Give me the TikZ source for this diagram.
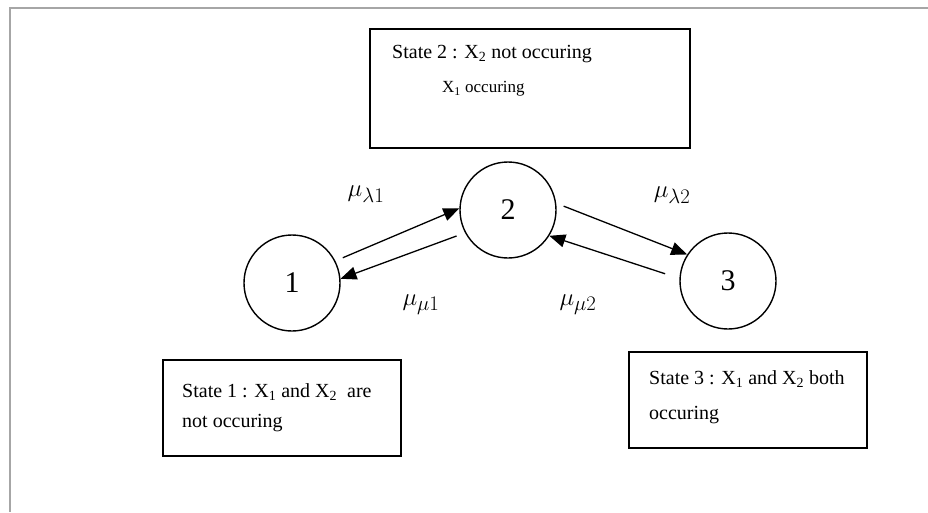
\documentclass[tikz,border=0pt]{standalone}
\usepackage{fontspec}
\setmainfont{Liberation Serif}
\usetikzlibrary{arrows.meta}
\begin{document}
\begin{tikzpicture}[x=1pt,y=-1pt,
  statecirc/.style={circle,draw,line width=1.4pt,minimum size=96pt,inner sep=0pt,font=\fontsize{30}{34}\selectfont},
  infobox/.style={draw,line width=1.7pt},
  boxtext/.style={anchor=west,inner sep=0pt,font=\fontsize{20}{24}\selectfont},
  smalltext/.style={anchor=west,inner sep=0pt,font=\fontsize{17}{20}\selectfont},
  rate/.style={inner sep=0pt,font=\fontsize{28}{32}\selectfont},
  trans/.style={line width=1.3pt,-{Triangle[length=16pt,width=13pt]}},
  frameline/.style={draw=black!35,line width=1.5pt}]
\useasboundingbox (0,0) rectangle (928,512);
\fill[white] (0,0) rectangle (928,512);
% outer frame
\coordinate (ftr) at (928,8);
\coordinate (ftl) at (10,8);
\coordinate (fbl) at (10,512);
\draw[frameline] (ftr) -- (ftl) -- (fbl);
% boxes
\node[infobox,minimum width=320pt,minimum height=119pt,inner sep=0pt] (box2) at (530,88.5) {};
\node[infobox,minimum width=238pt,minimum height=96pt,inner sep=0pt] (box1) at (282,408) {};
\node[infobox,minimum width=238pt,minimum height=96pt,inner sep=0pt] (box3) at (748,400) {};
\node[boxtext] (t2a) at (392,54) {State 2 : X\textsubscript{2} not occuring};
\node[smalltext] (t2b) at (442,89) {X\textsubscript{1} occuring};
\node[boxtext] (t1a) at (182,392) {State 1 : X\textsubscript{1} and X\textsubscript{2}\ \ are};
\node[boxtext] (t1b) at (182,423) {not occuring};
\node[boxtext] (t3a) at (649,379) {State 3 : X\textsubscript{1} and X\textsubscript{2} both};
\node[boxtext] (t3b) at (649,415) {occuring};
% states
\node[statecirc] (c1) at (292,283) {1};
\node[statecirc] (c2) at (508,210) {2};
\node[statecirc] (c3) at (728,281) {3};
% transitions
\draw[trans,shorten <=8pt] (c1.27) -- (c2.178);
\draw[trans,shorten <=9pt] (c2.208) -- (c1.5);
\draw[trans,shorten <=8pt] (c2.8) -- (c3.147);
\draw[trans,shorten <=15pt] (c3.177) -- (c2.-32);
% rates
\node[rate] (l1) at (366,194) {$\mu_{\lambda 1}$};
\node[rate] (l2) at (672,195) {$\mu_{\lambda 2}$};
\node[rate] (m1) at (421,305) {$\mu_{\mu 1}$};
\node[rate] (m2) at (578,305) {$\mu_{\mu 2}$};
\end{tikzpicture}
\end{document}
